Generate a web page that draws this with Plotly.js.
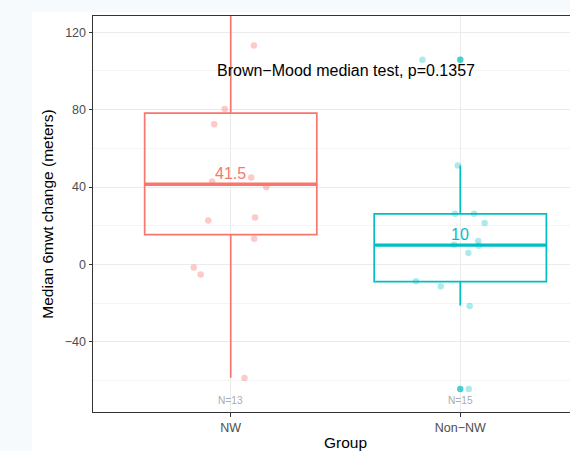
<!DOCTYPE html>
<html>
<head>
<meta charset="utf-8">
<script src="https://cdn.plot.ly/plotly-3.0.1.min.js"></script>
<style>
  html, body { margin:0; padding:0; width:570px; height:451px; overflow:hidden; background:#f6fafc; }
  #chart { position:absolute; left:32px; top:12px; width:570px; height:439px; background:#ffffff; }
</style>
</head>
<body>
<div id="chart"></div>
<script>
// ---- data ----
const groups = ['NW', 'Non−NW'];
const groupPos = [1, 2];
const counts = ['N=13', 'N=15'];

// box statistics
const q1 = [15.4, -8.8];
const medians = [41.5, 10];
const q3 = [78.2, 26.2];
const lowerWhisker = [-58.5, -21.2];
const upperWhisker = [150, 51.2];

// jittered observations
const nwValues  = [80.3, 72.5, 45.0, 42.9, 40.0, 22.8, 24.3, 13.3, -1.5, -5.2, -58.6, 113.2];
const nwJitter  = [-0.026, -0.072, 0.089, -0.081, 0.155, -0.098, 0.106, 0.102, -0.161, -0.131, 0.060, 0.101];
const nonValues = [105.8, -64.3, 51.2, 26.2, 26.2, 21.4, 12.2, 10.2, 9.7, 6.0, -8.6, -11.2, -21.4];
const nonJitter = [-0.165, 0.037, -0.011, -0.023, 0.060, 0.106, 0.078, -0.027, 0.080, 0.035, -0.193, -0.085, 0.041];

// boxplot outliers (Non-NW)
const nonOutliers = [105.8, -64.3];

const testLabel = 'Brown−Mood median test, p=0.1357';

// ---- styling ----
const colors = ['#F8766D', '#00BFC4'];
const pointColors = ['rgba(248,118,109,0.38)', 'rgba(0,191,196,0.32)'];
const FONT = 'Liberation Sans, Arial, Helvetica, sans-serif';
const BOXW = 0.75;

const traces = [];
groups.forEach((g, i) => {
  traces.push({
    type: 'box',
    x: [groupPos[i]],
    q1: [q1[i]], median: [medians[i]], q3: [q3[i]],
    lowerfence: [lowerWhisker[i]], upperfence: [upperWhisker[i]],
    width: BOXW,
    whiskerwidth: 0,
    boxpoints: false,
    fillcolor: 'rgba(0,0,0,0)',
    line: { color: colors[i], width: 1.7 },
    hoverinfo: 'skip',
    showlegend: false
  });
});

traces.push({
  type: 'scatter', mode: 'markers',
  x: nonOutliers.map(() => groupPos[1]),
  y: nonOutliers,
  marker: { color: 'rgba(0,191,196,0.72)', size: 6.5, line: { width: 0 } },
  showlegend: false, hoverinfo: 'skip'
});

traces.push({
  type: 'scatter', mode: 'markers',
  x: nwValues.map((v, k) => groupPos[0] + nwJitter[k]),
  y: nwValues,
  marker: { color: pointColors[0], size: 6.5, line: { width: 0 } },
  showlegend: false, hoverinfo: 'skip'
});
traces.push({
  type: 'scatter', mode: 'markers',
  x: nonValues.map((v, k) => groupPos[1] + nonJitter[k]),
  y: nonValues,
  marker: { color: pointColors[1], size: 6.5, line: { width: 0 } },
  showlegend: false, hoverinfo: 'skip'
});

// thicker median lines
const shapes = groups.map((g, i) => ({
  type: 'line', xref: 'x', yref: 'y',
  x0: groupPos[i] - BOXW / 2, x1: groupPos[i] + BOXW / 2,
  y0: medians[i], y1: medians[i],
  line: { color: colors[i], width: 3.4 },
  layer: 'above'
}));

const annotations = [];
groups.forEach((g, i) => {
  annotations.push({
    x: groupPos[i], y: medians[i], xref: 'x', yref: 'y',
    text: String(medians[i]), showarrow: false,
    xanchor: 'center', yanchor: 'bottom', yshift: 0,
    font: { family: FONT, size: 16, color: colors[i] }
  });
  annotations.push({
    x: groupPos[i], y: -70, xref: 'x', yref: 'y',
    text: counts[i], showarrow: false,
    xanchor: 'center', yanchor: 'middle',
    font: { family: FONT, size: 10.2, color: '#ababab' }
  });
});
annotations.push({
  x: 1.5, y: 100, xref: 'x', yref: 'y',
  text: testLabel, showarrow: false,
  xanchor: 'center', yanchor: 'middle',
  font: { family: FONT, size: 16, color: '#000000' }
});

const layout = {
  width: 570, height: 439,
  margin: { l: 61, r: 4, t: 4, b: 39, pad: 0 },
  paper_bgcolor: '#ffffff',
  plot_bgcolor: '#ffffff',
  font: { family: FONT },
  showlegend: false,
  xaxis: {
    range: [0.4, 2.6],
    tickvals: groupPos, ticktext: groups,
    showgrid: true, gridcolor: '#ebebeb', gridwidth: 1,
    zeroline: false,
    showline: true, linecolor: '#333333', linewidth: 1, mirror: true,
    ticks: 'outside', ticklen: 3.5, tickwidth: 1, tickcolor: '#333333',
    tickfont: { family: FONT, size: 12.5, color: '#4d4d4d' },
    title: { text: 'Group', font: { family: FONT, size: 15.5, color: '#000000' }, standoff: 6 }
  },
  yaxis: {
    range: [-76.2, 128.4],
    tick0: 0, dtick: 40,
    showgrid: true, gridcolor: '#ebebeb', gridwidth: 1,
    minor: { dtick: 20, showgrid: true, gridcolor: '#f4f4f4', gridwidth: 1, ticklen: 0 },
    zeroline: false,
    showline: true, linecolor: '#333333', linewidth: 1, mirror: true,
    ticks: 'outside', ticklen: 3.5, tickwidth: 1, tickcolor: '#333333',
    tickfont: { family: FONT, size: 12.5, color: '#4d4d4d' },
    title: { text: 'Median 6mwt change (meters)', font: { family: FONT, size: 15.5, color: '#000000' }, standoff: 7 }
  },
  shapes: shapes,
  annotations: annotations
};

Plotly.newPlot('chart', traces, layout, { displayModeBar: false, staticPlot: true });
</script>
</body>
</html>
